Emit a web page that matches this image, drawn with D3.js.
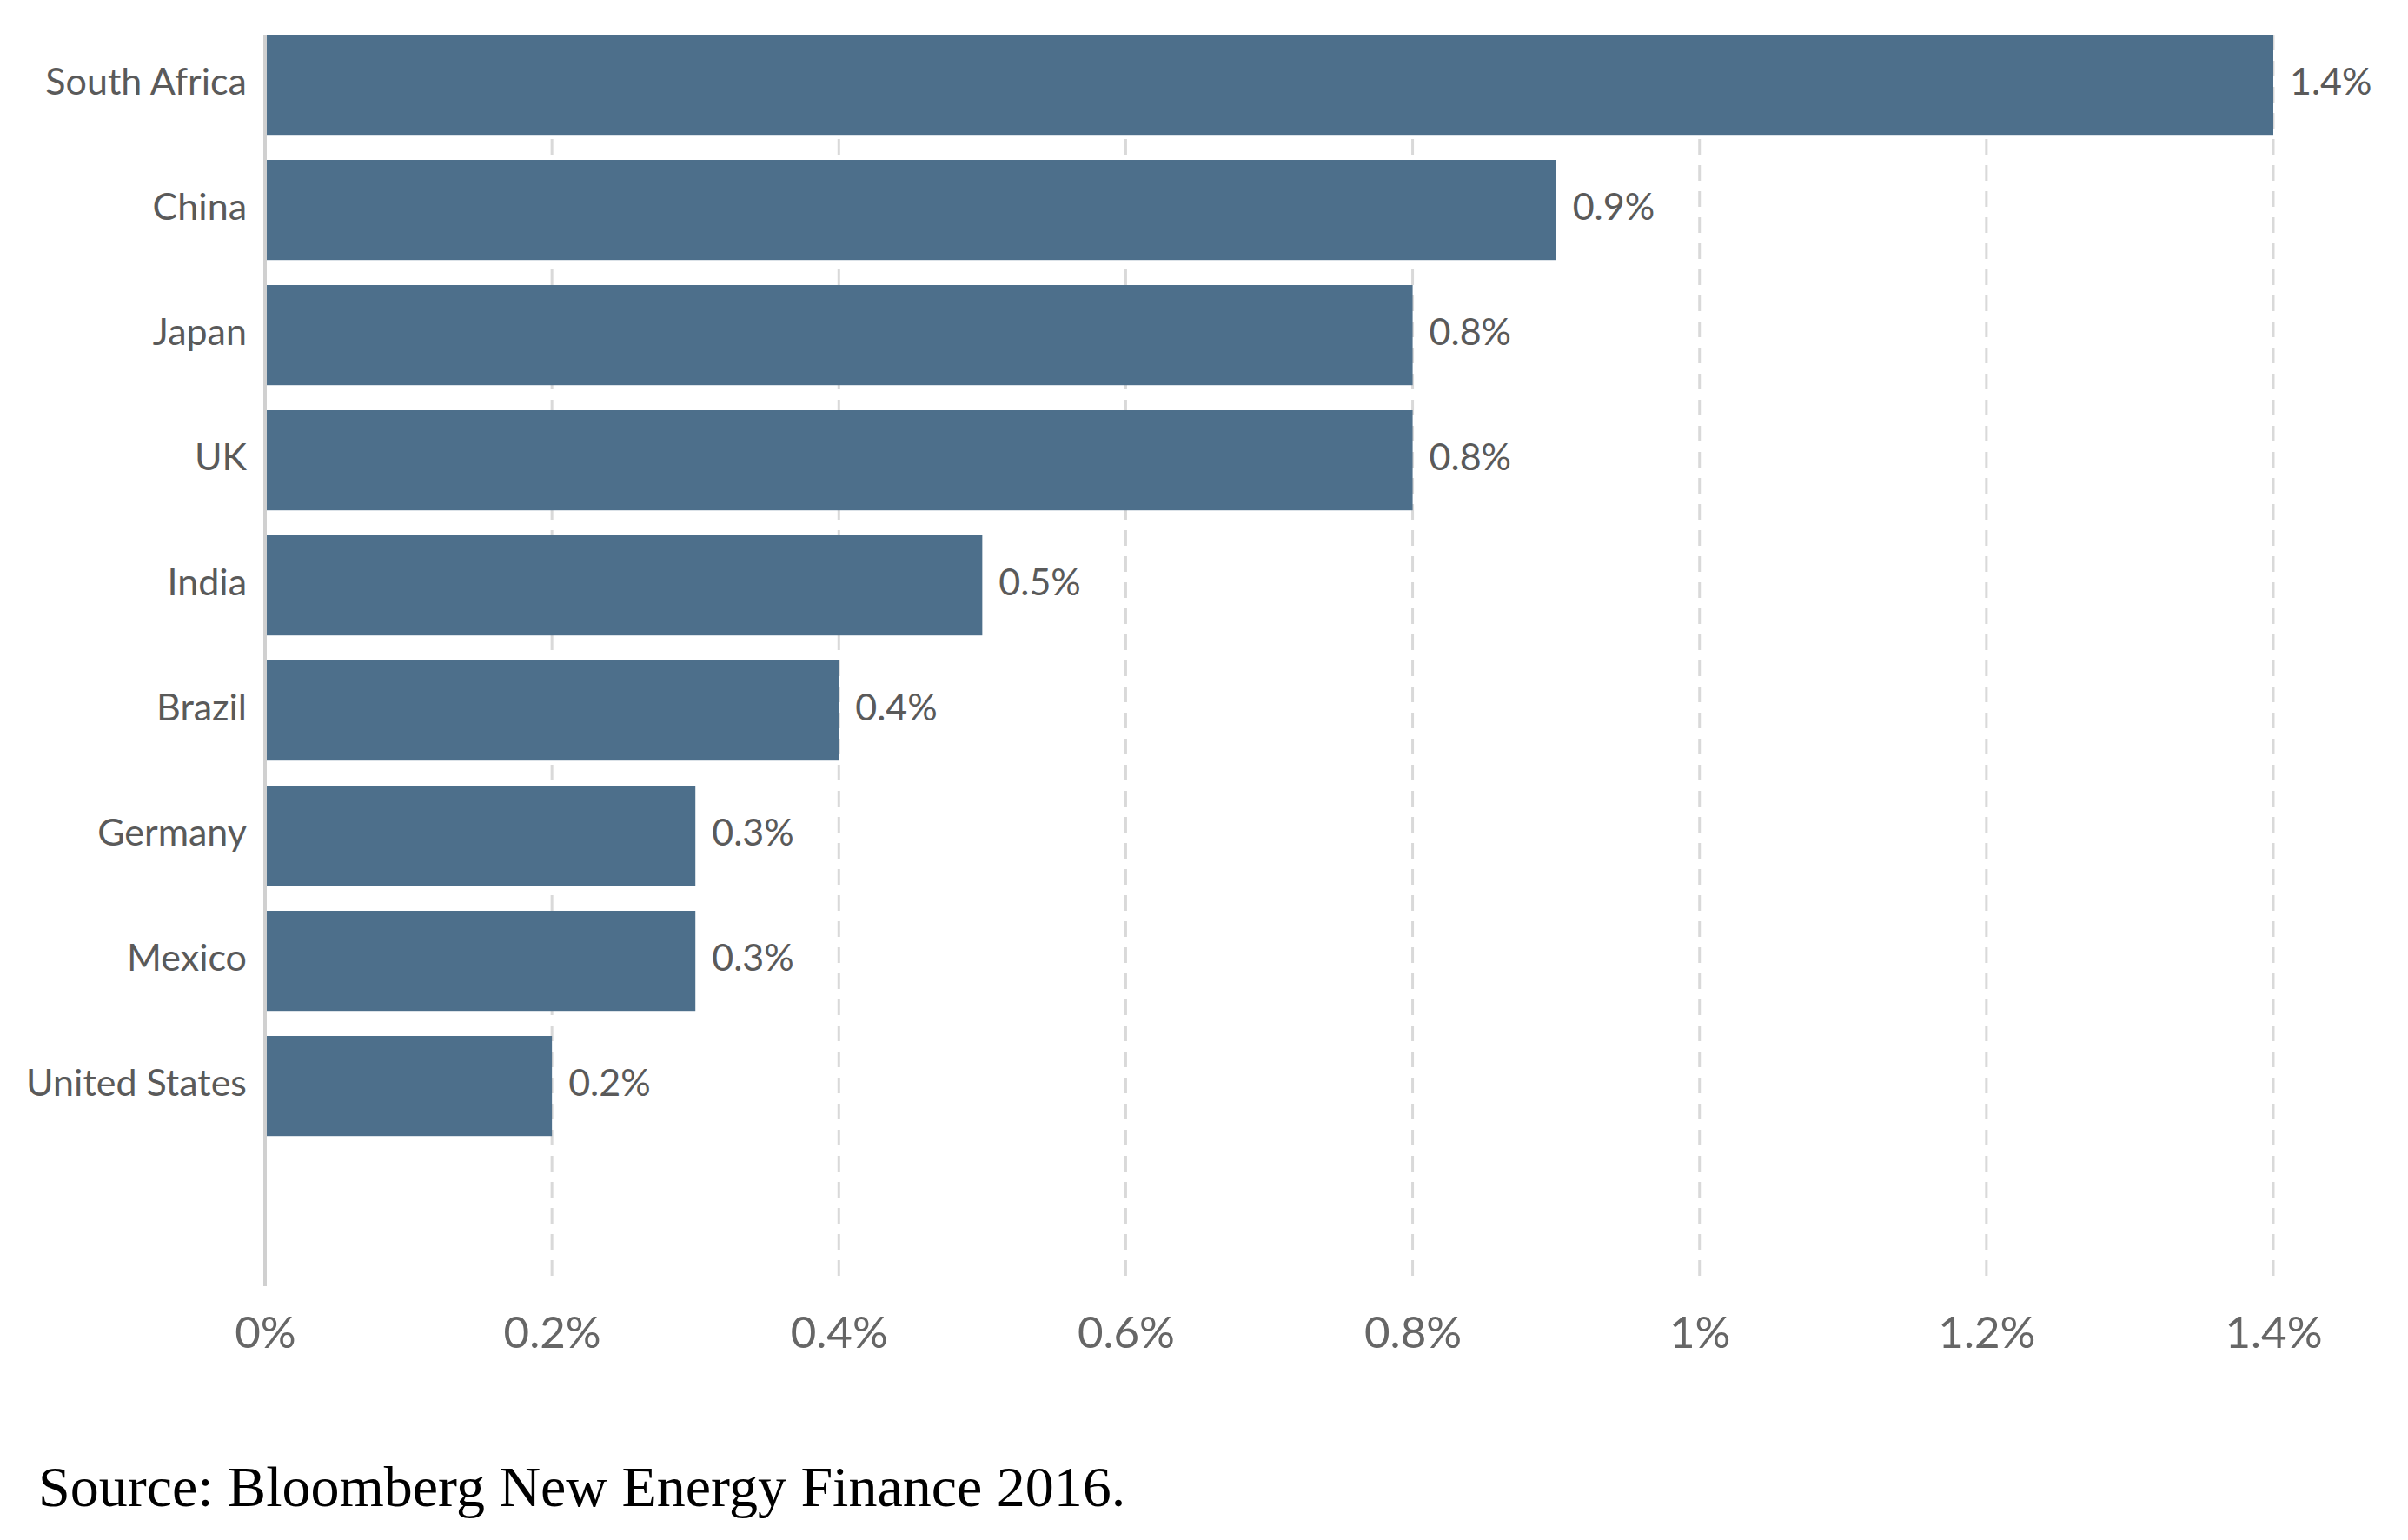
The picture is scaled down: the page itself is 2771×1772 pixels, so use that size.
<!DOCTYPE html>
<html>
<head>
<meta charset="utf-8">
<script src="https://cdn.jsdelivr.net/npm/d3@7"></script>
<style>
  body { margin: 0; background: #fff; }
  svg { display: block; }
</style>
</head>
<body>
<svg id="chart" width="2771" height="1772"></svg>
<script>
var countries = ['South Africa', 'China', 'Japan', 'UK', 'India', 'Brazil', 'Germany', 'Mexico', 'United States'];
var shares = [1.4, 0.9, 0.8, 0.8, 0.5, 0.4, 0.3, 0.3, 0.2];
var xTicks = [0, 0.2, 0.4, 0.6, 0.8, 1, 1.2, 1.4];
var sourceNote = 'Source: Bloomberg New Energy Finance 2016.';

var svg = d3.select('#chart');
var plotLeft = 305, plotRight = 2616, plotTop = 40, plotBottom = 1480;

var x = d3.scaleLinear().domain([0, 1.4]).range([plotLeft, plotRight]);
// one empty slot is left under the last bar
var y = d3.scaleBand().domain(countries).range([plotTop, plotBottom - 144])
    .paddingInner(0.2).paddingOuter(0.1).align(0);

// dashed grid
svg.append('g').selectAll('line')
    .data(xTicks.filter(function(d) { return d > 0; }))
    .enter().append('line')
    .attr('x1', function(d) { return x(d); })
    .attr('x2', function(d) { return x(d); })
    .attr('y1', plotTop)
    .attr('y2', plotBottom)
    .attr('stroke', '#d9d9d9')
    .attr('stroke-width', 3)
    .attr('stroke-dasharray', '18,12');

// bars
svg.append('g').selectAll('rect')
    .data(shares)
    .enter().append('rect')
    .attr('x', x(0))
    .attr('y', function(d, i) { return y(countries[i]); })
    .attr('width', function(d) { return x(d) - x(0); })
    .attr('height', y.bandwidth())
    .attr('fill', '#4d6f8b');

// zero line
svg.append('line')
    .attr('x1', x(0)).attr('x2', x(0))
    .attr('y1', plotTop).attr('y2', plotBottom)
    .attr('stroke', '#d0d0d0')
    .attr('stroke-width', 4);

// category labels
svg.append('g').selectAll('text')
    .data(countries)
    .enter().append('text')
    .attr('x', plotLeft - 21)
    .attr('y', function(d) { return y(d) + y.bandwidth() / 2; })
    .attr('dy', '0.26em')
    .attr('text-anchor', 'end')
    .attr('font-family', 'Lato, sans-serif')
    .attr('font-size', 43)
    .attr('fill', '#5a5a5a')
    .text(function(d) { return d; });

// value labels
svg.append('g').selectAll('text')
    .data(shares)
    .enter().append('text')
    .attr('x', function(d) { return x(d) + 19; })
    .attr('y', function(d, i) { return y(countries[i]) + y.bandwidth() / 2; })
    .attr('dy', '0.26em')
    .attr('font-family', 'Lato, sans-serif')
    .attr('font-size', 43)
    .attr('fill', '#5a5a5a')
    .text(function(d) { return d + '%'; });

// x axis labels
var xAxis = d3.axisBottom(x).tickValues(xTicks).tickSize(0)
    .tickFormat(function(d) { return d + '%'; });
var ax = svg.append('g')
    .attr('transform', 'translate(0,' + (plotBottom + 32) + ')')
    .call(xAxis);
ax.select('.domain').remove();
ax.selectAll('text')
    .attr('font-family', 'Lato, sans-serif')
    .attr('font-size', 51)
    .attr('fill', '#666');

svg.append('text')
    .attr('x', 44)
    .attr('y', 1733)
    .attr('font-family', '"Liberation Serif", "Times New Roman", serif')
    .attr('font-size', 66)
    .attr('fill', '#000')
    .text(sourceNote);
</script>
</body>
</html>
